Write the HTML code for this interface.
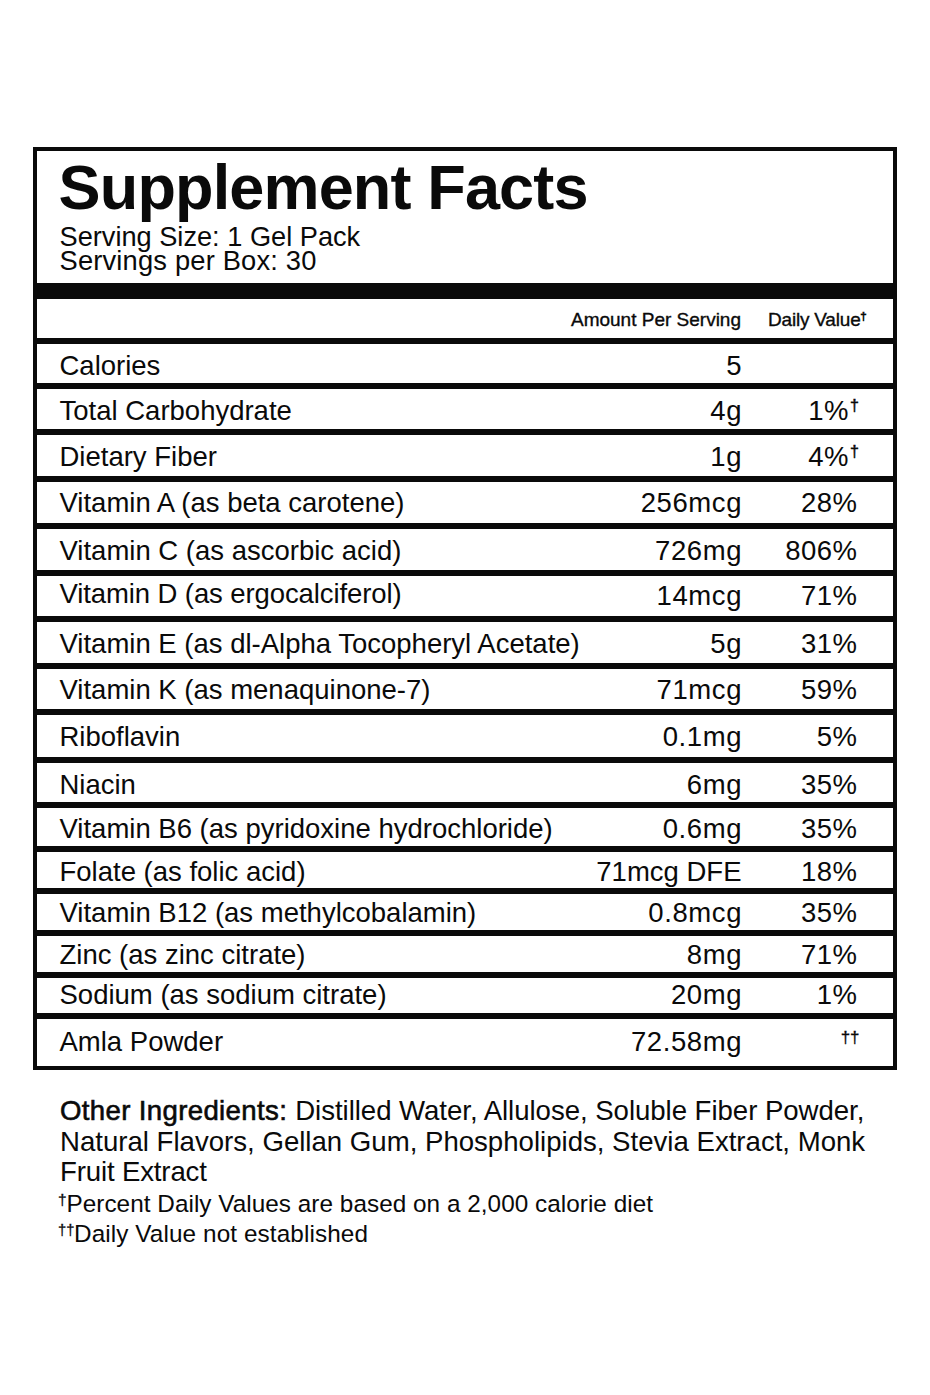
<!DOCTYPE html>
<html><head><meta charset="utf-8"><title>Supplement Facts</title>
<style>
html,body{margin:0;padding:0;background:#fff;}
body{width:930px;height:1395px;position:relative;overflow:hidden;font-family:"Liberation Sans",sans-serif;color:#0a0a0a;}
.t{position:absolute;white-space:pre;}
.r{position:absolute;background:#0a0a0a;}
.sup{font-size:0.58em;vertical-align:0.62em;line-height:0;}
.sup2{font-size:0.6em;vertical-align:0.55em;line-height:0;}
.m{-webkit-text-stroke:0.6px #0a0a0a;letter-spacing:0.35px;}
</style></head><body>
<div class="r" style="left:33px;top:147px;width:864px;height:4px"></div>
<div class="r" style="left:33px;top:1066px;width:864px;height:4px"></div>
<div class="r" style="left:33px;top:147px;width:4px;height:923px"></div>
<div class="r" style="left:893px;top:147px;width:4px;height:923px"></div>
<div class="r" style="left:33px;top:283px;width:864px;height:16px"></div>
<div class="r" style="left:33px;top:338px;width:864px;height:6px"></div>
<div class="r" style="left:33px;top:383px;width:864px;height:6px"></div>
<div class="r" style="left:33px;top:429px;width:864px;height:6px"></div>
<div class="r" style="left:33px;top:476px;width:864px;height:6px"></div>
<div class="r" style="left:33px;top:523px;width:864px;height:6px"></div>
<div class="r" style="left:33px;top:570px;width:864px;height:6px"></div>
<div class="r" style="left:33px;top:616px;width:864px;height:6px"></div>
<div class="r" style="left:33px;top:663px;width:864px;height:6px"></div>
<div class="r" style="left:33px;top:709px;width:864px;height:6px"></div>
<div class="r" style="left:33px;top:757px;width:864px;height:6px"></div>
<div class="r" style="left:33px;top:802px;width:864px;height:6px"></div>
<div class="r" style="left:33px;top:846px;width:864px;height:6px"></div>
<div class="r" style="left:33px;top:888px;width:864px;height:6px"></div>
<div class="r" style="left:33px;top:930px;width:864px;height:6px"></div>
<div class="r" style="left:33px;top:972px;width:864px;height:6px"></div>
<div class="r" style="left:33px;top:1013px;width:864px;height:6px"></div>
<div class="t" style="left:58.6px;top:156.27px;font-size:63px;line-height:63px;font-weight:700;letter-spacing:-0.85px;">Supplement Facts</div>
<div class="t" style="left:59.5px;top:223.28px;font-size:27.2px;line-height:27.2px;font-weight:400;letter-spacing:0px;">Serving Size: 1 Gel Pack</div>
<div class="t" style="left:59.5px;top:246.89px;font-size:27.3px;line-height:27.3px;font-weight:400;letter-spacing:0.18px;">Servings per Box: 30</div>
<div class="t" style="right:189px;text-align:right;top:309.72px;font-size:19px;line-height:19px;font-weight:400;-webkit-text-stroke:0.35px #0a0a0a;">Amount Per Serving</div>
<div class="t" style="right:69.5px;text-align:right;top:309.72px;font-size:19px;line-height:19px;font-weight:400;-webkit-text-stroke:0.35px #0a0a0a;letter-spacing:-0.2px;">Daily Value</div>
<div class="t" style="left:860.2295px;top:311.40px;font-size:11.5px;line-height:11.5px;font-weight:400;-webkit-text-stroke:0.6px #0a0a0a;">†</div>
<div class="t" style="left:59.5px;top:352.02px;font-size:27.5px;line-height:27.5px;font-weight:400;">Calories</div>
<div class="t" style="right:187.89999999999998px;text-align:right;top:352.02px;font-size:27.5px;line-height:27.5px;font-weight:400;letter-spacing:0.6px;">5</div>
<div class="t" style="left:59.5px;top:396.62px;font-size:27.5px;line-height:27.5px;font-weight:400;">Total Carbohydrate</div>
<div class="t" style="right:187.89999999999998px;text-align:right;top:396.62px;font-size:27.5px;line-height:27.5px;font-weight:400;letter-spacing:0.6px;">4g</div>
<div class="t" style="right:81.0px;text-align:right;top:396.62px;font-size:27.5px;line-height:27.5px;font-weight:400;letter-spacing:0.5px;">1%</div>
<div class="t" style="left:849.928px;top:397.96px;font-size:16px;line-height:16px;font-weight:400;-webkit-text-stroke:0.5px #0a0a0a;">†</div>
<div class="t" style="left:59.5px;top:442.82px;font-size:27.5px;line-height:27.5px;font-weight:400;">Dietary Fiber</div>
<div class="t" style="right:187.89999999999998px;text-align:right;top:442.82px;font-size:27.5px;line-height:27.5px;font-weight:400;letter-spacing:0.6px;">1g</div>
<div class="t" style="right:81.0px;text-align:right;top:442.82px;font-size:27.5px;line-height:27.5px;font-weight:400;letter-spacing:0.5px;">4%</div>
<div class="t" style="left:849.928px;top:444.16px;font-size:16px;line-height:16px;font-weight:400;-webkit-text-stroke:0.5px #0a0a0a;">†</div>
<div class="t" style="left:59.5px;top:489.42px;font-size:27.5px;line-height:27.5px;font-weight:400;">Vitamin A (as beta carotene)</div>
<div class="t" style="right:187.89999999999998px;text-align:right;top:489.42px;font-size:27.5px;line-height:27.5px;font-weight:400;letter-spacing:0.6px;">256mcg</div>
<div class="t" style="right:72.5px;text-align:right;top:489.42px;font-size:27.5px;line-height:27.5px;font-weight:400;letter-spacing:0.5px;">28%</div>
<div class="t" style="left:59.5px;top:536.92px;font-size:27.5px;line-height:27.5px;font-weight:400;">Vitamin C (as ascorbic acid)</div>
<div class="t" style="right:187.89999999999998px;text-align:right;top:536.92px;font-size:27.5px;line-height:27.5px;font-weight:400;letter-spacing:0.6px;">726mg</div>
<div class="t" style="right:72.5px;text-align:right;top:536.92px;font-size:27.5px;line-height:27.5px;font-weight:400;letter-spacing:0.5px;">806%</div>
<div class="t" style="left:59.5px;top:579.72px;font-size:27.5px;line-height:27.5px;font-weight:400;letter-spacing:-0.1px;">Vitamin D (as ergocalciferol)</div>
<div class="t" style="right:187.89999999999998px;text-align:right;top:582.42px;font-size:27.5px;line-height:27.5px;font-weight:400;letter-spacing:0.6px;">14mcg</div>
<div class="t" style="right:72.5px;text-align:right;top:582.42px;font-size:27.5px;line-height:27.5px;font-weight:400;letter-spacing:0.5px;">71%</div>
<div class="t" style="left:59.5px;top:629.92px;font-size:27.5px;line-height:27.5px;font-weight:400;">Vitamin E (as dl-Alpha Tocopheryl Acetate)</div>
<div class="t" style="right:187.89999999999998px;text-align:right;top:629.92px;font-size:27.5px;line-height:27.5px;font-weight:400;letter-spacing:0.6px;">5g</div>
<div class="t" style="right:72.5px;text-align:right;top:629.92px;font-size:27.5px;line-height:27.5px;font-weight:400;letter-spacing:0.5px;">31%</div>
<div class="t" style="left:59.5px;top:676.22px;font-size:27.5px;line-height:27.5px;font-weight:400;">Vitamin K (as menaquinone-7)</div>
<div class="t" style="right:187.89999999999998px;text-align:right;top:676.22px;font-size:27.5px;line-height:27.5px;font-weight:400;letter-spacing:0.6px;">71mcg</div>
<div class="t" style="right:72.5px;text-align:right;top:676.22px;font-size:27.5px;line-height:27.5px;font-weight:400;letter-spacing:0.5px;">59%</div>
<div class="t" style="left:59.5px;top:723.42px;font-size:27.5px;line-height:27.5px;font-weight:400;">Riboflavin</div>
<div class="t" style="right:187.89999999999998px;text-align:right;top:723.42px;font-size:27.5px;line-height:27.5px;font-weight:400;letter-spacing:0.6px;">0.1mg</div>
<div class="t" style="right:72.5px;text-align:right;top:723.42px;font-size:27.5px;line-height:27.5px;font-weight:400;letter-spacing:0.5px;">5%</div>
<div class="t" style="left:59.5px;top:771.42px;font-size:27.5px;line-height:27.5px;font-weight:400;">Niacin</div>
<div class="t" style="right:187.89999999999998px;text-align:right;top:771.42px;font-size:27.5px;line-height:27.5px;font-weight:400;letter-spacing:0.6px;">6mg</div>
<div class="t" style="right:72.5px;text-align:right;top:771.42px;font-size:27.5px;line-height:27.5px;font-weight:400;letter-spacing:0.5px;">35%</div>
<div class="t" style="left:59.5px;top:815.42px;font-size:27.5px;line-height:27.5px;font-weight:400;">Vitamin B6 (as pyridoxine hydrochloride)</div>
<div class="t" style="right:187.89999999999998px;text-align:right;top:815.42px;font-size:27.5px;line-height:27.5px;font-weight:400;letter-spacing:0.6px;">0.6mg</div>
<div class="t" style="right:72.5px;text-align:right;top:815.42px;font-size:27.5px;line-height:27.5px;font-weight:400;letter-spacing:0.5px;">35%</div>
<div class="t" style="left:59.5px;top:858.42px;font-size:27.5px;line-height:27.5px;font-weight:400;">Folate (as folic acid)</div>
<div class="t" style="right:188.5px;text-align:right;top:858.42px;font-size:27.5px;line-height:27.5px;font-weight:400;letter-spacing:0px;">71mcg DFE</div>
<div class="t" style="right:72.5px;text-align:right;top:858.42px;font-size:27.5px;line-height:27.5px;font-weight:400;letter-spacing:0.5px;">18%</div>
<div class="t" style="left:59.5px;top:899.22px;font-size:27.5px;line-height:27.5px;font-weight:400;">Vitamin B12 (as methylcobalamin)</div>
<div class="t" style="right:187.89999999999998px;text-align:right;top:899.22px;font-size:27.5px;line-height:27.5px;font-weight:400;letter-spacing:0.6px;">0.8mcg</div>
<div class="t" style="right:72.5px;text-align:right;top:899.22px;font-size:27.5px;line-height:27.5px;font-weight:400;letter-spacing:0.5px;">35%</div>
<div class="t" style="left:59.5px;top:941.42px;font-size:27.5px;line-height:27.5px;font-weight:400;">Zinc (as zinc citrate)</div>
<div class="t" style="right:187.89999999999998px;text-align:right;top:941.42px;font-size:27.5px;line-height:27.5px;font-weight:400;letter-spacing:0.6px;">8mg</div>
<div class="t" style="right:72.5px;text-align:right;top:941.42px;font-size:27.5px;line-height:27.5px;font-weight:400;letter-spacing:0.5px;">71%</div>
<div class="t" style="left:59.5px;top:981.12px;font-size:27.5px;line-height:27.5px;font-weight:400;">Sodium (as sodium citrate)</div>
<div class="t" style="right:187.89999999999998px;text-align:right;top:981.12px;font-size:27.5px;line-height:27.5px;font-weight:400;letter-spacing:0.6px;">20mg</div>
<div class="t" style="right:72.5px;text-align:right;top:981.12px;font-size:27.5px;line-height:27.5px;font-weight:400;letter-spacing:0.5px;">1%</div>
<div class="t" style="left:59.5px;top:1028.42px;font-size:27.5px;line-height:27.5px;font-weight:400;">Amla Powder</div>
<div class="t" style="right:187.89999999999998px;text-align:right;top:1028.42px;font-size:27.5px;line-height:27.5px;font-weight:400;letter-spacing:0.6px;">72.58mg</div>
<div class="t" style="left:840.661px;top:1028.53px;font-size:17px;line-height:17px;font-weight:400;-webkit-text-stroke:0.3px #0a0a0a;">††</div>
<div class="t" style="left:60px;top:1096.94px;font-size:27.6px;line-height:27.6px;font-weight:400;letter-spacing:-0.04px;"><span class="m">Other Ingredients: </span>Distilled Water, Allulose, Soluble Fiber Powder,</div>
<div class="t" style="left:60px;top:1127.64px;font-size:27.6px;line-height:27.6px;font-weight:400;">Natural Flavors, Gellan Gum, Phospholipids, Stevia Extract, Monk</div>
<div class="t" style="left:60px;top:1158.14px;font-size:27.6px;line-height:27.6px;font-weight:400;letter-spacing:-0.15px;">Fruit Extract</div>
<div class="t" style="left:57.9615px;top:1191.92px;font-size:15.5px;line-height:15.5px;font-weight:400;-webkit-text-stroke:0.3px #0a0a0a;">†</div>
<div class="t" style="left:66.5px;top:1191.73px;font-size:24.3px;line-height:24.3px;font-weight:400;letter-spacing:0.04px;">Percent Daily Values are based on a 2,000 calorie diet</div>
<div class="t" style="left:58.0084px;top:1223.40px;font-size:14.8px;line-height:14.8px;font-weight:400;-webkit-text-stroke:0.3px #0a0a0a;">††</div>
<div class="t" style="left:74px;top:1221.63px;font-size:24.3px;line-height:24.3px;font-weight:400;letter-spacing:0.1px;">Daily Value not established</div>
</body></html>
